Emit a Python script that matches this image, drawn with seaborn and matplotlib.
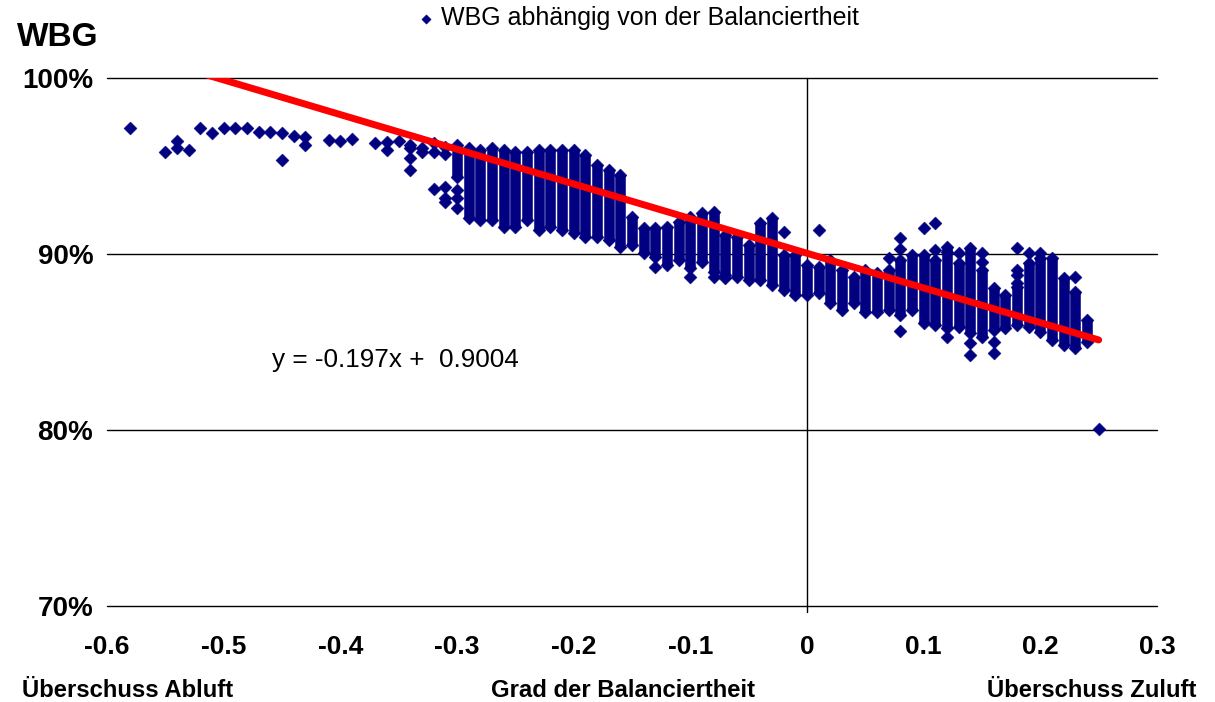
import numpy as np
import pandas as pd
import matplotlib
matplotlib.use("Agg")
import matplotlib.pyplot as plt
import seaborn as sns

# Dense vertical bands of measurements: x position, lowest and highest WBG (%)
col_x = [-0.30, -0.29, -0.28, -0.27, -0.26, -0.25, -0.24, -0.23, -0.22, -0.21,
         -0.20, -0.19, -0.18, -0.17, -0.16, -0.15, -0.14, -0.13, -0.12, -0.11,
         -0.10, -0.09, -0.08, -0.07, -0.06, -0.05, -0.04, -0.03, -0.02, -0.01,
         0.00, 0.01, 0.02, 0.03, 0.04, 0.05, 0.06, 0.07, 0.08, 0.09,
         0.10, 0.11, 0.12, 0.13, 0.14, 0.15, 0.16, 0.17, 0.18, 0.19,
         0.20, 0.21, 0.22, 0.23, 0.24]
col_lo = [94.4, 92.05, 91.95, 91.95, 91.55, 91.55, 91.95, 91.35, 91.55, 91.35,
          91.2, 90.95, 90.95, 90.8, 90.4, 90.5, 90.05, 89.85, 89.4, 89.65,
          89.2, 89.55, 89.0, 88.8, 88.7, 88.5, 88.5, 88.25, 87.95, 87.65,
          87.65, 87.8, 87.2, 86.8, 87.2, 86.7, 86.7, 86.8, 86.55, 86.8,
          86.1, 85.95, 85.8, 85.85, 85.5, 85.3, 85.7, 85.8, 85.95, 85.85,
          85.55, 85.1, 84.85, 84.65, 85.0]
col_hi = [96.2, 96.0, 95.9, 96.0, 95.9, 95.8, 95.8, 95.9, 95.9, 95.9,
          95.9, 95.6, 95.05, 94.8, 94.5, 92.1, 91.5, 91.5, 91.55, 91.8,
          92.1, 92.35, 92.4, 91.1, 90.95, 90.5, 91.75, 92.05, 89.95, 89.95,
          89.4, 89.25, 89.65, 89.1, 88.7, 89.1, 88.9, 89.1, 89.65, 89.95,
          89.95, 89.65, 90.4, 89.5, 90.35, 89.1, 88.05, 87.65, 88.1, 89.5,
          89.75, 89.75, 88.65, 87.85, 86.25]

# Individual measurements (x, WBG in %)
pt_x = [-0.58, -0.55, -0.54, -0.54, -0.53, -0.52, -0.51, -0.50, -0.49, -0.48,
        -0.47, -0.46, -0.45, -0.45, -0.44, -0.43, -0.43, -0.41, -0.40, -0.39,
        -0.37, -0.36, -0.36, -0.35, -0.34, -0.34, -0.34, -0.34, -0.33, -0.33,
        -0.32, -0.32, -0.32, -0.31, -0.31, -0.31, -0.31, -0.31,
        -0.30, -0.30, -0.30,
        -0.13, -0.10, -0.08, -0.07, -0.02, 0.01, 0.07, 0.08, 0.08,
        0.08, 0.10, 0.11, 0.11, 0.12, 0.12, 0.13, 0.14, 0.14, 0.15,
        0.15, 0.16, 0.16, 0.18, 0.18, 0.18, 0.18, 0.19, 0.20, 0.23,
        0.25]
pt_y = [97.15, 95.8, 96.4, 96.0, 95.9, 97.15, 96.9, 97.15, 97.15, 97.15,
        96.95, 96.95, 96.9, 95.35, 96.7, 96.65, 96.2, 96.5, 96.4, 96.55,
        96.3, 96.35, 95.9, 96.4, 96.2, 96.0, 95.45, 94.8, 96.0, 95.8,
        96.3, 95.8, 93.7, 96.1, 95.7, 93.8, 93.2, 92.95,
        93.65, 93.2, 92.6,
        89.25, 88.7, 88.7, 88.65, 91.25, 91.35, 89.8, 90.9, 90.3,
        85.6, 91.5, 91.75, 90.2, 90.1, 85.3, 90.05, 84.95, 84.25, 90.05,
        89.55, 85.0, 84.4, 90.35, 89.1, 88.8, 88.35, 90.05, 90.05, 88.7,
        80.05]

# Linear trend line
slope = -0.197
intercept = 0.9004

x_ticks = [-0.6, -0.5, -0.4, -0.3, -0.2, -0.1, 0.0, 0.1, 0.2, 0.3]
x_tick_labels = ["-0.6", "-0.5", "-0.4", "-0.3", "-0.2", "-0.1", "0", "0.1", "0.2", "0.3"]
y_ticks = [0.7, 0.8, 0.9, 1.0]
y_tick_labels = ["70%", "80%", "90%", "100%"]

NAVY = "#000080"

sns.set_style("white")
plt.rcParams["font.family"] = ["Liberation Sans", "DejaVu Sans"]
plt.rcParams["text.color"] = "black"
plt.rcParams["xtick.color"] = "black"
plt.rcParams["ytick.color"] = "black"

fig = plt.figure(figsize=(12.15, 7.02), dpi=100)
ax = fig.add_axes([0.0881, 0.1368, 0.8642, 0.7521])

cols = pd.DataFrame({"x": col_x, "lo": np.array(col_lo) / 100, "hi": np.array(col_hi) / 100})
pts = pd.DataFrame({"x": pt_x, "y": np.array(pt_y) / 100})

# band bodies
ax.vlines(cols["x"], cols["lo"], cols["hi"], colors=NAVY, linewidth=7.6, zorder=2)
ends = pd.DataFrame({"x": list(cols["x"]) * 2,
                     "y": list(cols["lo"]) + list(cols["hi"])})
allpts = pd.concat([ends, pts], ignore_index=True)
sns.scatterplot(data=allpts, x="x", y="y", ax=ax, marker="D", s=44,
                color=NAVY, edgecolor=NAVY, linewidth=0.3, zorder=3,
                label="WBG abhängig von der Balanciertheit", legend=True)

# trend line across the data range
xl = np.array([min(pt_x + col_x), max(pt_x + col_x)])
sns.lineplot(x=xl, y=slope * xl + intercept, ax=ax, color="#FF0000",
             linewidth=5.0, zorder=4, legend=False)

ax.set_xlim(-0.6, 0.3)
ax.set_ylim(0.7, 1.0)

for yv in y_ticks:
    ax.axhline(yv, color="black", linewidth=1.0, zorder=1, clip_on=False)
ax.axvline(0, ymin=-0.012, ymax=1.0, color="black", linewidth=1.0, zorder=1, clip_on=False)

for s in ax.spines.values():
    s.set_visible(False)

ax.set_xticks(x_ticks)
ax.set_xticklabels(x_tick_labels, fontsize=19, fontweight="bold")
ax.set_yticks(y_ticks)
ax.set_yticklabels(y_tick_labels, fontsize=20, fontweight="bold")
ax.tick_params(axis="x", length=0, pad=21)
ax.tick_params(axis="y", length=0, pad=10)
ax.set_xlabel("")
ax.set_ylabel("")

ax.text(-0.4586, 0.8398, "y = -0.197x +  0.9004", fontsize=18.8, va="center", ha="left")

fig.text(0.014, 0.947, "WBG", fontsize=24, fontweight="bold", va="center", ha="left")

handles, labels = ax.get_legend_handles_labels()
ax.legend(handles, labels, loc="center left", bbox_to_anchor=(0.338, 0.974),
          bbox_transform=fig.transFigure, frameon=False, fontsize=18,
          handletextpad=0.0, markerscale=0.72, borderaxespad=0, borderpad=0,
          handlelength=1.2)

fig.text(0.018, 0.017, "Überschuss Abluft", fontsize=17.2, fontweight="bold", va="center", ha="left")
fig.text(0.513, 0.017, "Grad der Balanciertheit", fontsize=17.2, fontweight="bold", va="center", ha="center")
fig.text(0.985, 0.017, "Überschuss Zuluft", fontsize=17.2, fontweight="bold", va="center", ha="right")

fig.savefig("out.png", dpi=100)
